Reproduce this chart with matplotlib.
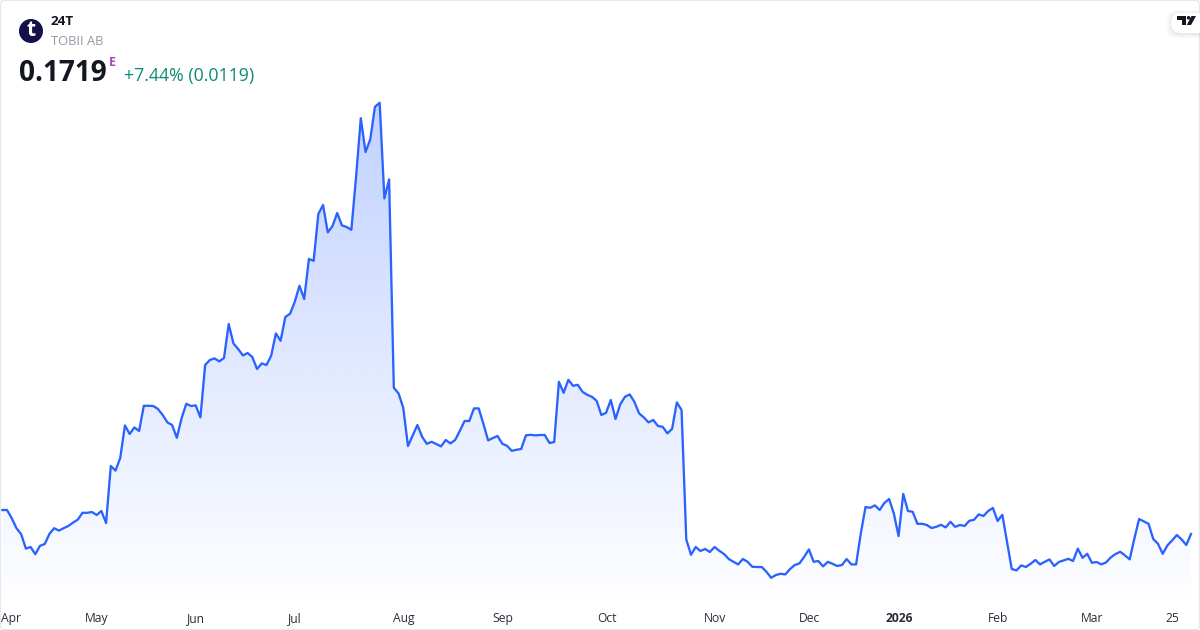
import numpy as np
import matplotlib
matplotlib.use("Agg")
import matplotlib.pyplot as plt
from matplotlib.colors import to_rgb
from matplotlib.patches import Circle, FancyBboxPatch, Polygon

plt.rcParams["font.family"] = ["Open Sans", "DejaVu Sans"]

symbol = "24T"
company = "TOBII AB"
last_price = "0.1719"
change_text = "+7.44% (0.0119)"

prices = [
    0.1839, 0.1839, 0.1798, 0.1748, 0.1718, 0.1646, 0.1654, 0.1618, 0.1660, 0.1669,
    0.1720, 0.1748, 0.1736, 0.1748, 0.1759, 0.1776, 0.1791, 0.1825, 0.1825, 0.1829,
    0.1814, 0.1834, 0.1774, 0.2059, 0.2036, 0.2099, 0.2262, 0.2219, 0.2252, 0.2234,
    0.2360, 0.2360, 0.2359, 0.2344, 0.2314, 0.2277, 0.2264, 0.2200, 0.2297, 0.2370,
    0.2359, 0.2362, 0.2302,
    0.2564, 0.2589, 0.2597, 0.2582, 0.2599, 0.2769, 0.2672, 0.2644, 0.2612, 0.2624,
    0.2604, 0.2544, 0.2572, 0.2564, 0.2610, 0.2722, 0.2685, 0.2804, 0.2820, 0.2880,
    0.2960, 0.2894, 0.3094, 0.3085, 0.3319, 0.3364, 0.3227, 0.3259, 0.3324, 0.3262,
    0.3254, 0.3240, 0.3505, 0.3798, 0.3629, 0.3692, 0.3855, 0.3875, 0.3397, 0.3492,
    0.2450, 0.2422, 0.2350,
    0.2159, 0.2212, 0.2264, 0.2205, 0.2170, 0.2180, 0.2169, 0.2157, 0.2189, 0.2172,
    0.2189, 0.2235, 0.2284, 0.2284, 0.2347, 0.2347, 0.2269, 0.2187, 0.2199, 0.2209,
    0.2170, 0.2160, 0.2135, 0.2140, 0.2144, 0.2212, 0.2215, 0.2212, 0.2214, 0.2214,
    0.2174, 0.2179, 0.2480, 0.2425, 0.2490, 0.2460, 0.2465, 0.2430, 0.2415, 0.2405,
    0.2385, 0.2314, 0.2325, 0.2389, 0.2294, 0.2367, 0.2405, 0.2417, 0.2380, 0.2322,
    0.2302, 0.2277, 0.2289, 0.2259, 0.2255, 0.2222, 0.2245, 0.2377, 0.2339,
    0.1692, 0.1615, 0.1654, 0.1634, 0.1644, 0.1629, 0.1654, 0.1635, 0.1619, 0.1594,
    0.1580, 0.1567, 0.1594, 0.1580, 0.1555, 0.1554, 0.1554, 0.1530, 0.1500, 0.1514,
    0.1520, 0.1517, 0.1544, 0.1564, 0.1572, 0.1605, 0.1642, 0.1580, 0.1584, 0.1557,
    0.1580, 0.1570, 0.1559, 0.1564, 0.1594, 0.1567, 0.1567, 0.1722, 0.1854, 0.1850,
    0.1862, 0.1839, 0.1874, 0.1894, 0.1822, 0.1709, 0.1919, 0.1834, 0.1830, 0.1770,
    0.1770, 0.1764,
    0.1749, 0.1755, 0.1765, 0.1752, 0.1780, 0.1755, 0.1764, 0.1759, 0.1785, 0.1790,
    0.1817, 0.1809, 0.1834, 0.1849, 0.1784, 0.1815, 0.1680, 0.1544, 0.1537, 0.1562,
    0.1554, 0.1570, 0.1589, 0.1567, 0.1580, 0.1592, 0.1559, 0.1579, 0.1587, 0.1595,
    0.1584, 0.1646, 0.1600, 0.1620, 0.1575, 0.1579, 0.1567, 0.1577, 0.1602, 0.1619,
    0.1630, 0.1612, 0.1592, 0.1697, 0.1794, 0.1782, 0.1770, 0.1694, 0.1670, 0.1620,
    0.1662, 0.1687, 0.1714, 0.1692, 0.1664, 0.1719,
]

# trading day index of each time label
tick_days = [0, 20, 41, 62, 85, 106, 128, 151, 171, 190, 211, 231, 248]
tick_labels = ["Apr", "May", "Jun", "Jul", "Aug", "Sep", "Oct", "Nov", "Dec", "2026", "Feb", "Mar", "25"]

W, H = 1200, 630
LINE = "#2962ff"

days = np.arange(len(prices))
step = (1191 - 2.3) / (len(prices) - 1)

fig = plt.figure(figsize=(W / 100, H / 100), dpi=100, facecolor="white")

# price pane fills the whole card
ax = fig.add_axes([0, 0, 1, 1])
xlim = (-2.3 / step, (W - 2.3) / step)
ylim = (0.1239, 0.4389)
ax.axis("off")

# area fill, fades from the top of the line down to the time axis
top, bottom = ylim[1] - 102 * 0.0005, ylim[1] - 610 * 0.0005
rgba = np.ones((256, 1, 4))
rgba[:, :, :3] = to_rgb(LINE)
rgba[:, 0, 3] = np.linspace(0.29, 0.0, 256)
im = ax.imshow(rgba, extent=[days[0], days[-1], bottom, top], aspect="auto", zorder=1,
               interpolation="bilinear", origin="upper")
poly = Polygon(list(zip(days, prices)) + [(days[-1], bottom), (days[0], bottom)],
               closed=True, transform=ax.transData, fc="none", ec="none")
ax.add_patch(poly)
im.set_clip_path(poly)
ax.set_xlim(xlim)
ax.set_ylim(ylim)

ax.plot(days, prices, color=LINE, lw=1.65, solid_joinstyle="round", zorder=2)

# overlay in pixel coordinates for header and labels
ov = fig.add_axes([0, 0, 1, 1], facecolor="none")
ov.set_xlim(0, W)
ov.set_ylim(H, 0)
ov.axis("off")

ov.add_patch(FancyBboxPatch((0.5, 0.5), W - 1, H - 1, boxstyle="round,pad=0,rounding_size=4",
                            fc="none", ec="#e6e8ee", lw=0.9))

for d, lab in zip(tick_days, tick_labels):
    x = 2.3 + d * step
    bold = lab == "2026"
    ov.text(1 if d == 0 else x + 0.5, 618.8, lab, ha="left" if d == 0 else "center", va="center",
            fontsize=8.7, color="#2a2e39", fontweight="bold" if bold else "normal")

# logo
ov.add_patch(Circle((31, 31), 12, fc="#14104a", ec="none"))
ov.text(31, 31, "t", ha="center", va="center", fontsize=15, color="white", fontweight="bold")

ov.text(51, 21.2, symbol, ha="left", va="center", fontsize=9.7, color="#131722", fontweight="bold")
ov.text(51, 41.5, company, ha="left", va="center", fontsize=9.3, color="#9598a1")
ov.text(19, 73.5, last_price, ha="left", va="center", fontsize=20.2, color="#131722", fontweight="bold")
ov.text(109, 62, "E", ha="left", va="center", fontsize=9, color="#ab47bc", fontweight="bold")
ov.text(124, 76.5, change_text, ha="left", va="center", fontsize=12.8, color="#0b8a75")

# attribution pill with the TV mark
for grow, a in [(5, 0.008), (4, 0.012), (3, 0.016), (2, 0.02), (1, 0.025)]:
    ov.add_patch(FancyBboxPatch((1171 - grow, 13 - grow + 1), 50 + 2 * grow, 20 + 2 * grow,
                                boxstyle="round,pad=0,rounding_size=10", fc="black", ec="none", alpha=a))
ov.add_patch(FancyBboxPatch((1171, 13), 50, 20, boxstyle="round,pad=0,rounding_size=10", fc="white", ec="none"))
ov.add_patch(Polygon([(1177, 16), (1186, 16), (1186, 25), (1182, 25), (1182, 19.5), (1177, 19.5)], fc="#131722", ec="none"))
ov.add_patch(Circle((1188.6, 17.8), 1.8, fc="#131722", ec="none"))
ov.add_patch(Polygon([(1191.5, 16), (1196, 16), (1191, 25), (1186.8, 25)], fc="#131722", ec="none"))

fig.savefig("out.png", dpi=100)
